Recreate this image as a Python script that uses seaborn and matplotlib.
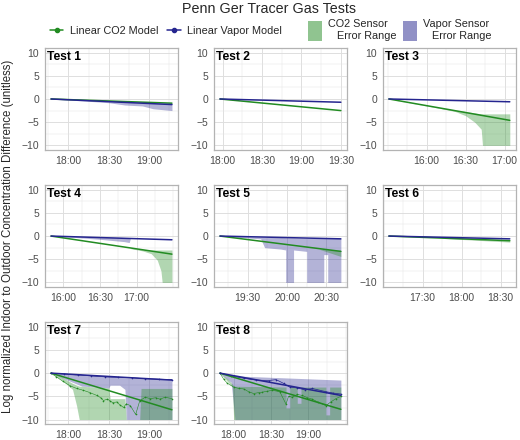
import pandas as pd
import matplotlib
matplotlib.use("Agg")
import matplotlib.pyplot as plt
import matplotlib.dates as mdates
from matplotlib.lines import Line2D
from matplotlib.patches import Patch
import seaborn as sns

# ---------------- data ----------------
test_names = ["Test 1", "Test 2", "Test 3", "Test 4", "Test 5", "Test 6", "Test 7", "Test 8"]
start_times = ["17:47", "17:58", "15:31", "15:50", "19:09", "17:04", "17:47", "17:49"]
end_times = ["19:17", "19:30", "17:04", "17:29", "20:41", "18:37", "19:17", "19:26"]
co2_model_end = [-0.9, -2.5, -4.6, -3.9, -3.3, -1.0, -7.9, -7.8]
vapor_model_end = [-1.2, -0.7, -0.6, -0.8, -0.6, -0.6, -1.5, -4.8]

# sensor error ranges (time, lower, upper)
vap_t1 = ["17:47", "18:10", "18:30", "18:42", "18:55", "19:03", "19:10", "19:17"]
vap_lo1 = [0, -0.4, -0.8, -1.3, -1.5, -2.1, -2.3, -2.5]
vap_hi1 = [0, -0.25, -0.45, -0.6, -0.75, -0.85, -0.95, -1.0]

co2_t3 = ["15:31", "16:10", "16:22", "16:30", "16:37", "16:42", "16:43", "17:04"]
co2_lo3 = [0, -2.0, -2.7, -3.6, -5.0, -6.5, -10, -10]
co2_hi3 = [0, -1.9, -2.4, -2.7, -3.0, -3.2, -3.2, -3.2]

vap_t4 = ["15:50", "16:10", "16:30", "16:50", "16:54", "16:55"]
vap_lo4 = [0, -0.3, -0.7, -1.2, -1.4, -0.5]
vap_hi4 = [0, -0.05, -0.15, -0.3, -0.35, -0.5]
co2_t4 = ["16:55", "17:05", "17:12", "17:17", "17:20", "17:21", "17:29"]
co2_lo4 = [-2.7, -3.2, -3.8, -5.2, -7.5, -10, -10]
co2_hi4 = [-2.6, -2.9, -3.0, -3.0, -3.0, -3.0, -3.0]

vap_t5 = ["19:09", "19:40", "19:43", "19:55", "19:59", "19:59", "20:05", "20:05",
          "20:15", "20:15", "20:28", "20:28", "20:31", "20:31", "20:41"]
vap_lo5 = [0, -0.6, -2.5, -2.8, -3.0, -10, -10, -3.0, -3.3, -10, -10, -4.0, -4.0, -10, -10]
vap_hi5 = [0, -0.2, -0.25, -0.3, -0.35, -0.35, -0.4, -0.4, -0.45, -0.45, -0.5, -0.5, -0.5, -0.5, -0.5]
co2_t5 = ["20:25", "20:41"]
co2_lo5 = [-2.9, -4.4]
co2_hi5 = [-2.8, -3.1]

co2_t6 = ["17:45", "18:37"]
co2_lo6 = [-0.5, -1.3]
co2_hi6 = [-0.4, -0.8]

vap_t7 = ["17:47", "18:00", "18:10", "18:30", "18:31", "18:38", "18:42", "18:43", "19:17"]
vap_lo7 = [0, -1.6, -2.8, -3.2, -2.6, -2.6, -3.5, -10, -10]
vap_hi7 = [0.1, -0.2, -0.4, -0.7, -0.7, -0.9, -1.0, -1.0, -1.3]
co2_t7 = ["17:47", "17:55", "18:03", "18:06", "18:08", "18:30", "18:31", "18:38",
          "18:42", "18:43", "18:53", "18:54", "19:17"]
co2_lo7 = [0, -1.5, -3.5, -7, -10, -10, -10, -10, -10, -10, -10, -10, -10]
co2_hi7 = [0, -0.9, -2.2, -2.6, -2.8, -3.2, -5.5, -5.5, -5.5, -10, -10, -3.3, -3.3]

vap_t8 = ["17:49", "17:58", "18:01", "19:26"]
vap_lo8 = [0, -2.0, -10, -10]
vap_hi8 = [0, -0.4, -0.6, -1.5]
co2_t8 = ["17:49", "17:55", "17:59", "18:00", "18:42", "18:42", "18:45", "18:45", "18:51",
          "18:51", "18:54", "18:54", "19:14", "19:14", "19:17", "19:17", "19:26"]
co2_lo8 = [0, -1.8, -3.0, -10, -10, -10, -10, -10, -10, -10, -10, -10, -10, -10, -10, -10, -10]
co2_hi8 = [0, -1.2, -2.4, -2.8, -3.0, -7.5, -7.5, -3.0, -3.0, -6.5, -6.5, -3.0, -3.0, -9, -9, -3.0, -3.0]

# measured values (tests 7 and 8)
co2_pts_t7 = ["17:47", "17:51", "17:56", "18:01", "18:06", "18:11", "18:16", "18:21", "18:24",
              "18:26", "18:29", "18:31", "18:33", "18:36", "18:38", "18:41", "18:43", "18:46",
              "18:50", "18:53", "18:57", "19:01", "19:05", "19:08", "19:12", "19:17"]
co2_pts7 = [0, -0.8, -1.8, -2.7, -3.3, -3.7, -4.2, -4.8, -5.3, -5.9, -5.6, -6.0, -6.4, -6.2,
            -6.8, -7.4, -6.6, -7.0, -8.9, -6.0, -5.2, -5.5, -5.3, -5.6, -5.2, -5.5]
vap_pts_t7 = ["17:47", "17:57", "18:07", "18:17", "18:27", "18:37", "18:47", "18:57", "19:07", "19:17"]
vap_pts7 = [0, -0.2, -0.4, -0.6, -0.8, -0.9, -1.0, -1.2, -1.3, -1.4]

co2_pts_t8 = ["17:49", "17:52", "17:55", "18:00", "18:04", "18:08", "18:12", "18:16", "18:20",
              "18:23", "18:27", "18:31", "18:37", "18:42", "18:44", "18:47", "18:51", "18:55",
              "18:59", "19:03", "19:08", "19:14", "19:18", "19:22", "19:26"]
co2_pts8 = [0, -1.3, -2.2, -3.0, -3.3, -3.4, -4.0, -4.4, -4.2, -4.1, -3.9, -3.7, -4.0, -6.7,
            -5.0, -5.2, -4.6, -4.8, -5.3, -5.6, -6.3, -7.0, -6.2, -5.5, -5.0]
vap_pts_t8 = ["17:49", "17:58", "18:08", "18:18", "18:28", "18:34", "18:40", "18:45", "18:51",
              "18:57", "19:03", "19:14", "19:20", "19:26"]
vap_pts8 = [0, -0.6, -1.1, -1.5, -1.6, -1.4, -2.2, -3.0, -3.2, -3.6, -3.3, -4.0, -4.3, -4.5]

co2_bands = [None, None, (co2_t3, co2_lo3, co2_hi3), (co2_t4, co2_lo4, co2_hi4),
             (co2_t5, co2_lo5, co2_hi5), (co2_t6, co2_lo6, co2_hi6),
             (co2_t7, co2_lo7, co2_hi7), (co2_t8, co2_lo8, co2_hi8)]
vapor_bands = [(vap_t1, vap_lo1, vap_hi1), None, None, (vap_t4, vap_lo4, vap_hi4),
               (vap_t5, vap_lo5, vap_hi5), None,
               (vap_t7, vap_lo7, vap_hi7), (vap_t8, vap_lo8, vap_hi8)]
measured = {6: (co2_pts_t7, co2_pts7, vap_pts_t7, vap_pts7),
            7: (co2_pts_t8, co2_pts8, vap_pts_t8, vap_pts8)}

DAY = "2019-07-15 "


def tm(values):
    return pd.to_datetime([DAY + v for v in values])


GREEN = "#228B22"
BLUE = "#25258F"

# ---------------- plot ----------------
sns.set_theme(style="white")
plt.rcParams['font.family'] = ['Liberation Sans', 'DejaVu Sans']
plt.rcParams['axes.unicode_minus'] = True

fig, axes = plt.subplots(3, 3, figsize=(5.2, 4.4), dpi=100)
fig.subplots_adjust(left=0.0865, right=0.992, top=0.891, bottom=0.036,
                    wspace=0.27, hspace=0.343)

for i, name in enumerate(test_names):
    ax = axes.flat[i]
    t0, t1 = tm([start_times[i], end_times[i]])

    if vapor_bands[i] is not None:
        bt, lo, hi = vapor_bands[i]
        ax.fill_between(tm(bt), lo, hi, color=BLUE, alpha=0.35, lw=0)
    if co2_bands[i] is not None:
        bt, lo, hi = co2_bands[i]
        ax.fill_between(tm(bt), lo, hi, color=GREEN, alpha=0.35, lw=0)

    if i in measured:
        ct, cv, vt, vv = measured[i]
        sns.lineplot(x=tm(ct), y=cv, ax=ax, color=GREEN, lw=0.4, marker='o',
                     markersize=1.2, markeredgewidth=0, legend=False)
        sns.lineplot(x=tm(vt), y=vv, ax=ax, color=BLUE, lw=0.5, marker='o',
                     markersize=1.2, markeredgewidth=0, legend=False)

    sns.lineplot(x=[t0, t1], y=[0, co2_model_end[i]], ax=ax, color=GREEN, lw=1.1, legend=False)
    sns.lineplot(x=[t0, t1], y=[0, vapor_model_end[i]], ax=ax, color=BLUE, lw=1.1, legend=False)

    pad = (t1 - t0) * 0.05
    ax.set_xlim(t0 - pad, t1 + pad)
    ax.set_ylim(-11, 11)
    major = pd.date_range(t0.ceil('30min'), t1, freq='30min')
    minor = pd.date_range((t0 - pad).ceil('15min'), t1 + pad, freq='15min')
    ax.set_xticks(major)
    ax.set_xticks(minor, minor=True)
    ax.xaxis.set_major_formatter(mdates.DateFormatter('%H:%M'))
    ax.set_yticks([-10, -5, 0, 5, 10])
    ax.set_yticks([-7.5, -2.5, 2.5, 7.5], minor=True)
    ax.set_xlabel("")
    ax.set_ylabel("")

    ax.set_axisbelow(True)
    ax.grid(which='major', color='#dedede', lw=0.7)
    ax.grid(which='minor', color='#e6e6e6', lw=0.35)
    for s in ax.spines.values():
        s.set_color('#b3b3b3')
        s.set_linewidth(0.9)
    ax.tick_params(which='major', length=2.75, width=0.6, color='#b3b3b3',
                   labelsize=7.5, labelcolor='#4d4d4d', pad=1.5)
    ax.tick_params(which='minor', length=0)
    ax.text(0.015, 0.975, name, transform=ax.transAxes, ha='left', va='top',
            fontsize=8.7, fontweight='bold', color='black')

axes.flat[8].axis('off')

fig.text(0.517, 1 - 9 / 440, "Penn Ger Tracer Gas Tests", ha='center', va='center',
         fontsize=10.3)
fig.text(8 / 520, 1 - 236 / 440,
         "Log normalized Indoor to Outdoor Concentration Difference (unitless)",
         rotation=90, ha='center', va='center', fontsize=8.3)

line_handles = [Line2D([], [], color=GREEN, lw=1.1, marker='o', markersize=3),
                Line2D([], [], color=BLUE, lw=1.1, marker='o', markersize=3)]
fig.legend(line_handles, ["Linear CO2 Model", "Linear Vapor Model"], loc='center',
           bbox_to_anchor=(0.319, 1 - 31 / 440), ncol=2, frameon=False, fontsize=7.8,
           handlelength=1.25, handletextpad=0.6, columnspacing=0.8)

patch_handles = [Patch(facecolor=GREEN, alpha=0.5, lw=0),
                 Patch(facecolor=BLUE, alpha=0.5, lw=0)]
fig.legend(patch_handles, ["CO2 Sensor\n   Error Range", "Vapor Sensor\n   Error Range"],
           loc='center', bbox_to_anchor=(0.769, 1 - 30 / 440), ncol=2, frameon=False,
           fontsize=7.8, handlelength=1.35, handleheight=2.5, handletextpad=0.55,
           columnspacing=0.55)

fig.savefig("out.png", dpi=100)
